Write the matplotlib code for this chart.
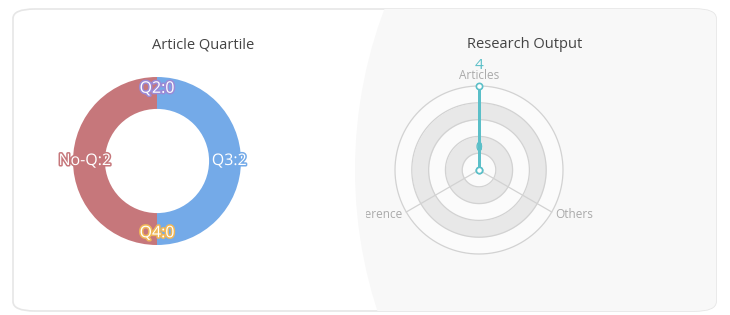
import numpy as np
import matplotlib.pyplot as plt
import matplotlib.patheffects as pe
from matplotlib.patches import FancyBboxPatch, Circle, Rectangle

plt.rcParams['font.family'] = ['Open Sans', 'DejaVu Sans']

# %% data
quartile_names = ['Q2', 'Q3', 'Q4', 'No-Q']
quartile_counts = [0, 2, 0, 2]
quartile_colors = ['#9b8ad6', '#74aae8', '#f0b757', '#c6777b']

output_names = ['Articles', 'Conference', 'Others']
output_counts = [4, 0, 0]
output_max = 4

W, H = 730, 315
fig = plt.figure(figsize=(W / 100, H / 100), dpi=100)
fig.patch.set_facecolor('white')

# card background
card = FancyBboxPatch((13 / W, 4 / H), 703 / W, 302 / H,
                      boxstyle='round,pad=0,rounding_size=0.03',
                      transform=fig.transFigure, facecolor='white',
                      edgecolor='#e6e6e6', linewidth=1.2, zorder=-3)
fig.patches.append(card)
# faint curved shade on the right half
shade = Circle((810 / 100, (H - 170) / 100), 455 / 100,
               transform=fig.dpi_scale_trans, facecolor='#f8f8f8',
               edgecolor='none', zorder=-2)
shade.set_clip_path(card)
fig.patches.append(shade)


def px_axes(cx, cy, r, **kw):
    return fig.add_axes([(cx - r) / W, (H - cy - r) / H, 2 * r / W, 2 * r / H], **kw)


# %% donut
fig.text(203 / W, 1 - 45 / H, 'Article Quartile', ha='center', va='center',
         fontsize=10.5, color='#444444')
ax1 = px_axes(157, 161, 84)
wedges, _ = ax1.pie(quartile_counts, colors=quartile_colors, startangle=90,
                    counterclock=False, radius=1,
                    wedgeprops=dict(width=0.38, edgecolor='none'))
ax1.set_xlim(-1, 1)
ax1.set_ylim(-1, 1)
ax1.set_aspect('equal')
ax1.axis('off')
for w, name, val, col in zip(wedges, quartile_names, quartile_counts, quartile_colors):
    ang = np.deg2rad((w.theta1 + w.theta2) / 2)
    r = 0.86
    ax1.text(r * np.cos(ang), r * np.sin(ang), f'{name}:{val}', ha='center',
             va='center', fontsize=11.5, color='white',
             path_effects=[pe.withStroke(linewidth=2.2, foreground=col)])

# %% radar
fig.text(525 / W, 1 - 45 / H, 'Research Output', ha='center', va='center',
         fontsize=10.5, color='#444444')
ax2 = px_axes(479, 170, 84, projection='polar')
ax2.set_theta_zero_location('N')
ax2.set_ylim(0, output_max)
ax2.axis('off')
ax2.patch.set_alpha(0)
n = len(output_names)
angles = np.arange(n) * 2 * np.pi / n
rings = np.linspace(0, output_max, 6)
full = np.linspace(0, 2 * np.pi, 361)
for i in range(5):
    fc = '#e8e8e8' if i % 2 == 1 else '#fbfbfb'
    ax2.fill_between(full, rings[i], rings[i + 1], color=fc, lw=0, zorder=1)
for rr in rings[1:]:
    ax2.plot(full, np.full_like(full, rr), color='#d2d2d2', lw=0.9, zorder=2,
             clip_on=False)
for a in angles:
    ax2.plot([a, a], [0, output_max], color='#d2d2d2', lw=0.9, zorder=2,
             clip_on=False)

vals = output_counts + output_counts[:1]
angs = list(angles) + [angles[0]]
ax2.plot(angs, vals, color='#5bbfc8', lw=2, zorder=3, clip_on=False)
ax2.plot(angles, output_counts, 'o', ms=4.5, mfc='white', mec='#5bbfc8',
         mew=1.2, zorder=4, clip_on=False)
ax2.text(0, output_max * 1.24, str(output_counts[0]), ha='center', va='center',
         fontsize=11, color='#5bbfc8', zorder=5)
for a, v in zip(angles[1:], output_counts[1:]):
    ax2.text(0, output_max * 0.27, str(v), ha='center', va='center',
             fontsize=8.5, color='#5bbfc8', zorder=5)

clip = Rectangle((366 / W, 0), 1, 1, transform=fig.transFigure)
for a, name in zip(angles, output_names):
    d = np.rad2deg(a)
    if d == 0:
        t = ax2.text(a, output_max * 1.13, name, ha='center', va='center', fontsize=8.5, color='#aaaaaa')
    elif d < 180:
        t = ax2.text(a, output_max * 1.05, name, ha='right', va='center', fontsize=8.5, color='#aaaaaa')
    else:
        t = ax2.text(a, output_max * 1.05, name, ha='left', va='center', fontsize=8.5, color='#aaaaaa')
    t.set_clip_path(clip)
    t.set_clip_on(True)

fig.savefig('out.png', dpi=100, facecolor='white')
